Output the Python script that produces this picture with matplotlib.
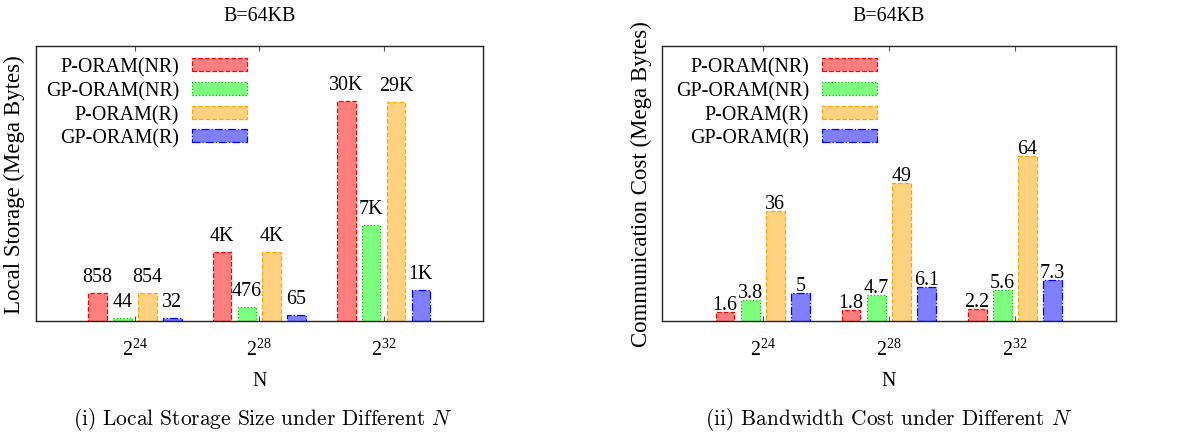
import matplotlib
matplotlib.use("Agg")
import matplotlib.pyplot as plt
import numpy as np

plt.rcParams['font.family'] = ['Liberation Serif', 'DejaVu Serif']
plt.rcParams['mathtext.fontset'] = 'custom'
plt.rcParams['mathtext.rm'] = 'Liberation Serif'

# categories and series
grupos = ['$\\mathregular{2^{24}}$', '$\\mathregular{2^{28}}$', '$\\mathregular{2^{32}}$']
series = ['P-ORAM(NR)', 'GP-ORAM(NR)', 'P-ORAM(R)', 'GP-ORAM(R)']

# bar heights as drawn (relative scale)
storage_alto = [
    [27.7, 68.3, 219.3],
    [2.7, 13.7, 96.0],
    [27.7, 68.3, 218.3],
    [2.7, 5.7, 30.7],
]
storage_etq = [
    ['858', '4K', '30K'],
    ['44', '476', '7K'],
    ['854', '4K', '29K'],
    ['32', '65', '1K'],
]

banda_alto = [
    [9.0, 10.7, 12.0],
    [20.7, 26.0, 30.7],
    [109.7, 137.7, 164.7],
    [27.7, 34.0, 40.7],
]
banda_etq = [
    ['1.6', '1.8', '2.2'],
    ['3.8', '4.7', '5.6'],
    ['36', '49', '64'],
    ['5', '6.1', '7.3'],
]

relleno = ['#ff7f7f', '#7fff7f', '#ffd27f', '#7f7fff']
borde = ['#ff0000', '#00c000', '#ffa500', '#0000ff']
estilo = ['--', ':', '--', '-.']

FS = 14.4


def graficar(ax, alturas, etiquetas, ylabel, offset_etq):
    x = np.arange(len(grupos))
    ancho = 0.15
    desp = [-0.3, -0.1, 0.1, 0.3]
    for i in range(len(series)):
        barras = ax.bar(x + desp[i], alturas[i], ancho, color=relleno[i],
                        edgecolor=borde[i], linestyle=estilo[i], linewidth=0.9,
                        label=series[i])
        for b, t in zip(barras, etiquetas[i]):
            ax.annotate(t, (b.get_x() + b.get_width() / 2, b.get_height()),
                        xytext=(0, offset_etq), textcoords='offset points',
                        ha='center', va='baseline', fontsize=FS)
    ax.set_xlim(-0.8, 2.8)
    ax.set_ylim(0, 274.7)
    ax.set_xticks(x)
    ax.set_xticklabels(grupos, fontsize=FS)
    ax.set_yticks([])
    ax.tick_params(axis='x', direction='in', length=3.5, width=0.8, color='#555555',
                   top=True, pad=13)
    for s in ax.spines.values():
        s.set_linewidth(1.0)
        s.set_color('#222222')
    ax.set_title('B=64KB', fontsize=FS, pad=19)
    ax.set_xlabel('N', fontsize=FS, labelpad=8)
    ax.set_ylabel(ylabel, fontsize=16.5)
    ax.yaxis.set_label_coords(-0.023, 0.5)


fig = plt.figure(figsize=(11.93, 4.35), dpi=100)
ax1 = fig.add_axes([0.0298, 0.2605, 0.3751, 0.6315])
ax2 = fig.add_axes([0.5549, 0.2605, 0.3803, 0.6315])

graficar(ax1, storage_alto, storage_etq, 'Local Storage (Mega Bytes)', 8.6)
graficar(ax2, banda_alto, banda_etq, 'Communication Cost (Mega Bytes)', 2.2)

for ax, xr in [(ax1, 0.4726), (ax2, 0.474)]:
    ax.legend(loc='upper right', bbox_to_anchor=(xr, 0.958), frameon=False,
              markerfirst=False, fontsize=FS, handlelength=2.75, handleheight=0.62,
              handletextpad=0.65, labelspacing=0.22, borderpad=0, borderaxespad=0)

fig.text(263 / 1193, 0.036, '(i) Local Storage Size under Different $N$',
         ha='center', va='center', fontsize=15.4, family='cmr10', math_fontfamily='cm')
fig.text(888 / 1193, 0.036, '(ii) Bandwidth Cost under Different $N$',
         ha='center', va='center', fontsize=15.4, family='cmr10', math_fontfamily='cm')

fig.savefig('out.png', dpi=100)
